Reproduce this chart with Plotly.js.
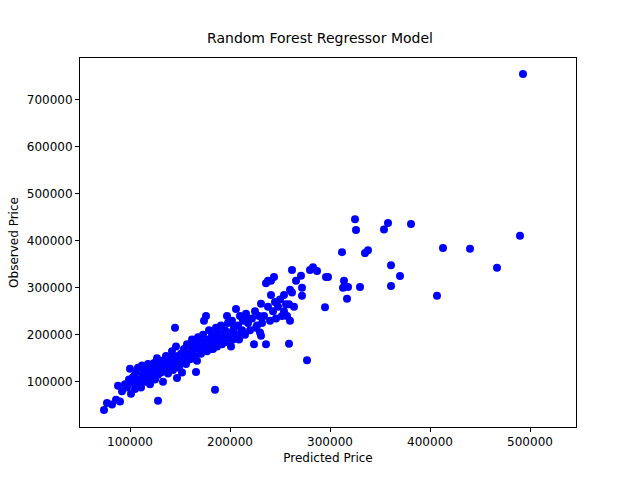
<html><head><script src="https://cdn.plot.ly/plotly-3.0.1.min.js"></script></head><body style="margin:0">
<div id="c" style="width:640px;height:480px"></div>
<script>
// values in thousands
const predictedK = [493,490,467,440,407,413,381,370,361,361,358,354,338,335,330,325,326,318,317,314,313,312,298,296,295,287,283,280,277,271,272,272,262,260,259,254,244,241,238,236,231,231,185,128,166,145,147,
74,77,82,86,88,90,92,95,97,99,100,101,102,104,105,106,107,108,110,111,112,113,115,116,118,119,120,121,122,124,125,126,127,128,130,131,132,133,135,136,137,138,140,141,142,143,145,146,148,149,150,151,152,154,155,156,157,158,160,161,162,163,165,166,167,168,170,171,172,173,174,175,176,177,178,179,180,181,182,184,185,186,187,188,190,191,192,193,195,196,197,198,199,200,201,202,204,205,206,208,209,210,212,213,215,216,218,220,222,224,225,227,229,230,232,234,236,238,240,241,243,245,246,248,250,252,254,256,257,259,260,262,264,266,
103,109,114,117,123,129,134,139,144,153,159,164,169,183,189,194,203,211,217,226];
const observedK = [755,411,343,383,283,385,436,325,348,304,438,424,380,374,302,446,423,302,277,315,300,376,323,323,259,336,344,338,146,326,300,283,338,296,181,285,323,315,315,310,266,198,83,60,121,215,108,
40,55,52,62,92,58,80,95,88,105,128,75,98,112,85,120,95,130,105,88,135,115,100,125,138,110,95,130,118,140,105,125,150,115,135,120,145,100,128,155,140,118,132,150,165,125,140,175,155,130,145,160,120,170,150,138,180,160,148,175,190,165,155,180,145,195,170,160,185,200,230,175,240,165,190,210,180,170,200,185,195,215,175,205,190,220,180,200,210,185,240,225,195,205,175,230,215,200,255,220,190,240,210,230,200,245,225,210,235,180,250,220,240,205,225,240,180,260,230,285,250,270,235,260,275,240,250,265,240,265,230,290,260,315,
110,100,125,120,110,135,125,130,150,140,160,150,175,170,185,200,190,205,230,215];
const xTicks = [100000,200000,300000,400000,500000];
const yTicks = [100000,200000,300000,400000,500000,600000,700000];
const ax = {showline:true,mirror:true,linecolor:'#000',linewidth:1,ticks:'outside',ticklen:4,tickcolor:'#000',showgrid:false,zeroline:false,tickfont:{size:12,color:'#000'}};
Plotly.newPlot('c',[{x:predictedK.map(v=>v*1000),y:observedK.map(v=>v*1000),mode:'markers',type:'scatter',marker:{color:'#0000ff',size:8}}],{
 width:640,height:480,margin:{l:80,r:64,t:58,b:53},
 font:{family:'DejaVu Sans',color:'#000'},
 title:{text:'Random Forest Regressor Model',font:{size:14},x:0.5,y:0.93,xanchor:'center'},
 xaxis:Object.assign({},ax,{range:[50000,546000],tickvals:xTicks,ticktext:xTicks.map(String),title:{text:'Predicted Price',font:{size:12},standoff:5}}),
 yaxis:Object.assign({},ax,{range:[4000,789000],tickvals:yTicks,ticktext:yTicks.map(String),title:{text:'Observed Price',font:{size:12},standoff:5}}),
 plot_bgcolor:'#fff',paper_bgcolor:'#fff',showlegend:false
},{displayModeBar:false});
</script></body></html>
